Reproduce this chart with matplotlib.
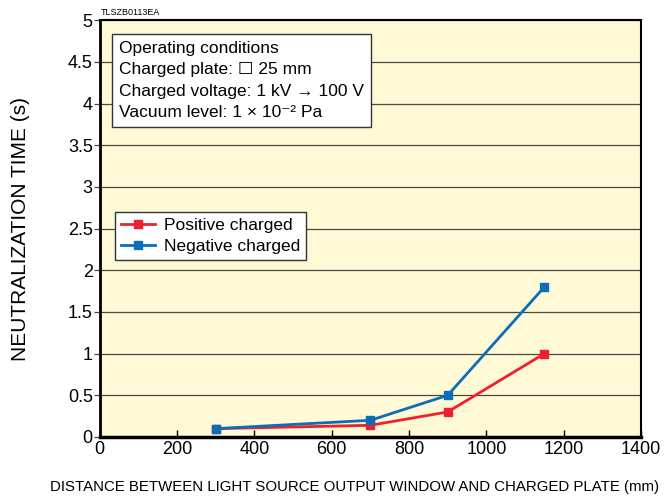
import matplotlib
matplotlib.use("Agg")
import matplotlib.pyplot as plt

distance = [300, 700, 900, 1150]
positive = [0.10, 0.14, 0.30, 1.00]
negative = [0.10, 0.20, 0.50, 1.80]
xticks = [0, 200, 400, 600, 800, 1000, 1200, 1400]
yticks = [0, 0.5, 1, 1.5, 2, 2.5, 3, 3.5, 4, 4.5, 5]
ytick_labels = ["0", "0.5", "1", "1.5", "2", "2.5", "3", "3.5", "4", "4.5", "5"]

plt.rcParams['font.family'] = ['Liberation Sans', 'DejaVu Sans']

fig = plt.figure(figsize=(6.65, 5.04), dpi=100)
ax = fig.add_axes([0.150, 0.133, 0.814, 0.827])
ax.set_facecolor('#FFF9D6')

ax.plot(distance, positive, color='#EE2030', lw=2, marker='s', ms=6, label='Positive charged', zorder=3)
ax.plot(distance, negative, color='#0A6EB8', lw=2, marker='s', ms=6, label='Negative charged', zorder=3)

ax.set_xlim(0, 1400)
ax.set_ylim(0, 5)
ax.set_xticks(xticks)
ax.set_yticks(yticks)
ax.set_yticklabels(ytick_labels)
ax.yaxis.grid(True, color='#4a4a40', lw=0.9)
ax.set_axisbelow(True)
ax.tick_params(axis='x', direction='in', length=5, width=1, labelsize=13, pad=3)
ax.tick_params(axis='y', direction='out', length=4, width=0.9, color='#4a4a40', labelsize=13, pad=1)
for s in ax.spines.values():
    s.set_linewidth(1.5)
ax.spines['bottom'].set_linewidth(2.5)
ax.spines['left'].set_linewidth(2)

ax.set_xlabel('DISTANCE BETWEEN LIGHT SOURCE OUTPUT WINDOW AND CHARGED PLATE (mm)',
              fontsize=10.8, labelpad=16, x=0.47)
ax.set_ylabel('NEUTRALIZATION TIME (s)', fontsize=15, labelpad=27)

ax.text(0.035, 0.95,
        'Operating conditions\nCharged plate: \u2610 25 mm\nCharged voltage: 1 kV \u2192 100 V\nVacuum level: 1 \u00d7 10\u207b\u00b2 Pa',
        transform=ax.transAxes, va='top', ha='left', fontsize=12.5, linespacing=1.52,
        bbox=dict(boxstyle='square,pad=0.4', fc='white', ec='#333333', lw=1), zorder=5)

leg = ax.legend(loc='upper left', bbox_to_anchor=(0.013, 0.56), fontsize=12.5,
                frameon=True, fancybox=False, framealpha=1, edgecolor='#333333',
                handlelength=2.0, borderpad=0.3, labelspacing=0.38, handletextpad=0.5)
leg.get_frame().set_linewidth(1)

fig.text(0.151, 0.975, 'TLSZB0113EA', fontsize=6.5, ha='left', va='center')

fig.savefig('out.png', dpi=100)
